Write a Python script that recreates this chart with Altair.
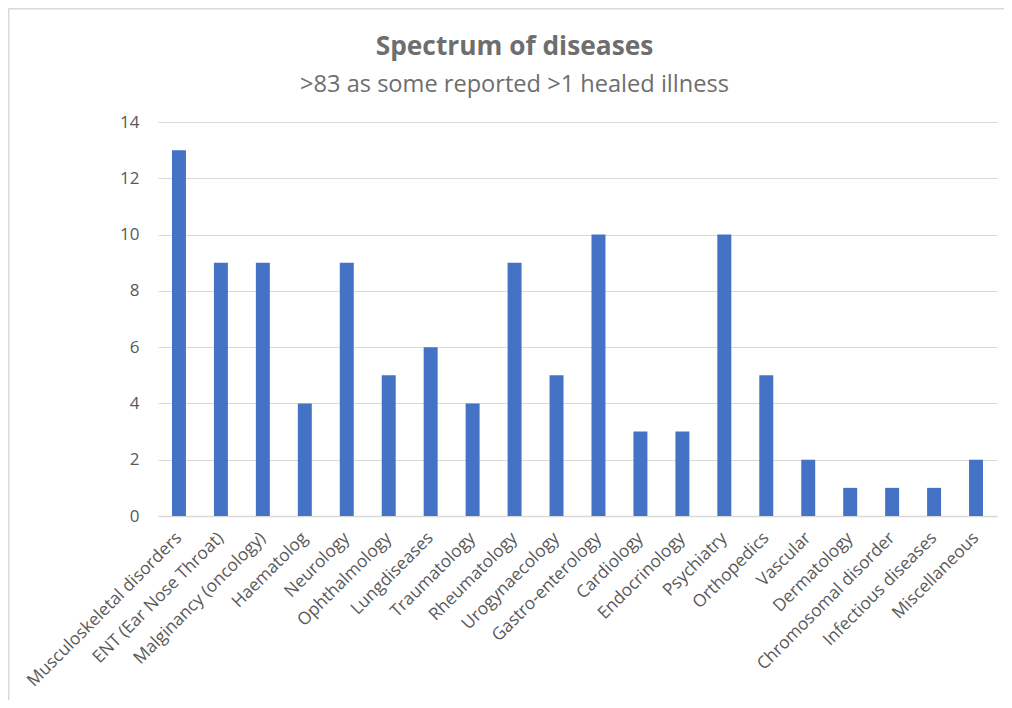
import altair as alt
import pandas as pd

categories = [
    "Musculoskeletal disorders", "ENT (Ear Nose Throat)", "Malginancy (oncology)",
    "Haematolog", "Neurology", "Ophthalmology", "Lungdiseases", "Traumatology",
    "Rheumatology", "Urogynaecology", "Gastro-enterology", "Cardiology",
    "Endocrinology", "Psychiatry", "Orthopedics", "Vascular", "Dermatology",
    "Chromosomal disorder", "Infectious diseases", "Miscellaneous",
]
values = [13, 9, 9, 4, 9, 5, 6, 4, 9, 5, 10, 3, 3, 10, 5, 2, 1, 1, 1, 2]
y_ticks = [0, 2, 4, 6, 8, 10, 12, 14]

df = pd.DataFrame({"category": categories, "value": values})

FONT = "Open Sans"
GRAY = "#595959"
BORDER = "#d9d9d9"

bars = (
    alt.Chart(df)
    .mark_bar(color="#4472C4")
    .encode(
        x=alt.X(
            "category:N",
            sort=categories,
            title=None,
            scale=alt.Scale(paddingInner=0.667, paddingOuter=0.333),
            axis=alt.Axis(
                labelAngle=-45,
                labelAlign="right",
                labelBaseline="middle",
                labelFontSize=17.3,
                labelColor=GRAY,
                labelFont=FONT,
                labelPadding=19,
                labelLimit=400,
                ticks=False,
                domainColor="#d9d9d9",
                domainWidth=1.5,
                labelOverlap=False,
            ),
        ),
        y=alt.Y(
            "value:Q",
            title=None,
            scale=alt.Scale(domain=[0, 14], nice=False),
            axis=alt.Axis(
                values=y_ticks,
                labelFontSize=17,
                labelColor=GRAY,
                labelFont=FONT,
                labelPadding=19,
                ticks=False,
                domain=False,
                gridColor="#d9d9d9",
                gridWidth=1,
            ),
        ),
    )
)

frame_df = pd.DataFrame({"k": [0]})
frame_top = alt.Chart(frame_df).mark_rule(color=BORDER, strokeWidth=1.5).encode(
    x=alt.value(-149.5), x2=alt.value(846), y=alt.value(-113.3)
)
frame_left = alt.Chart(frame_df).mark_rule(color=BORDER, strokeWidth=1.5).encode(
    x=alt.value(-149.3), y=alt.value(-113.5), y2=alt.value(578)
)

chart = (
    alt.layer(bars, frame_top, frame_left)
    .properties(
        width=839,
        height=394,
        autosize=alt.AutoSizeParams(type="none"),
        padding={"left": 150, "top": 114, "right": 7, "bottom": 184},
        title=alt.TitleParams(
            text="Spectrum of diseases",
            subtitle=">83 as some reported >1 healed illness",
            anchor="middle",
            dx=-63,
            font=FONT,
            fontSize=26.3,
            fontWeight="bold",
            color="#6e6e6e",
            subtitleFont=FONT,
            subtitleFontSize=23.6,
            subtitleColor="#6e6e6e",
            subtitlePadding=13,
            offset=-88.7,
        ),
    )
    .configure_view(stroke=None)
)

chart.save("out.html", embed_options={"renderer": "svg", "actions": False})
